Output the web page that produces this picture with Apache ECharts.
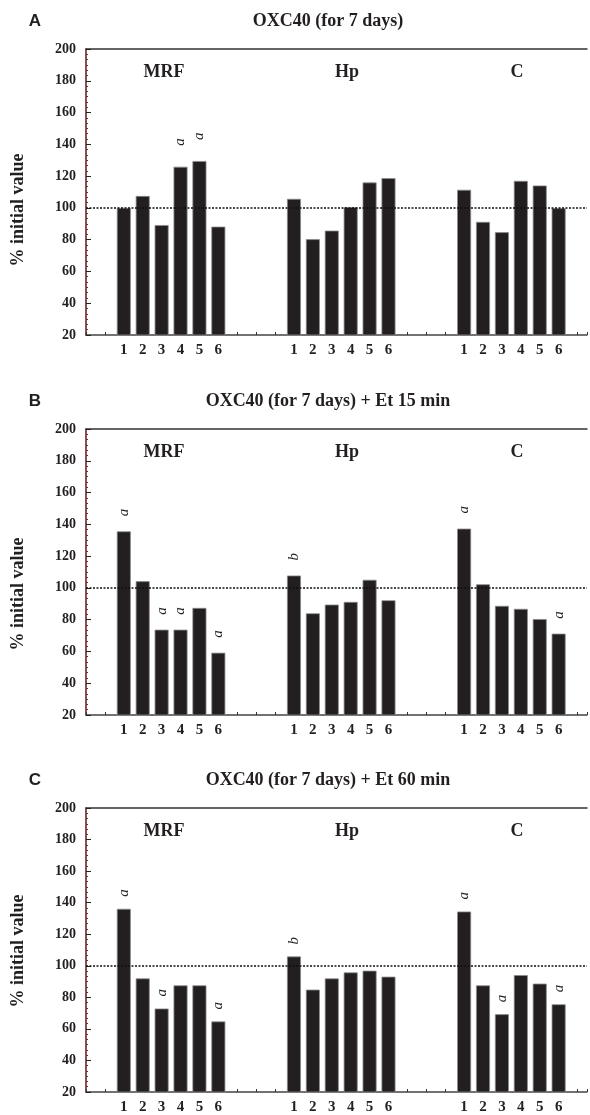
<!DOCTYPE html>
<html>
<head>
<meta charset="utf-8">
<style>
  html,body{margin:0;padding:0;background:#fff;}
  #container{width:590px;height:1115px;}
</style>
</head>
<body>
<div id="container"></div>
<script src="https://cdn.jsdelivr.net/npm/echarts@6/dist/echarts.min.js"></script>
<script>
// ---- data ----
var groups = ['MRF', 'Hp', 'C'];
var barLabels = ['1', '2', '3', '4', '5', '6'];
var yMin = 20, yMax = 200, yStep = 20;
var refValue = 100;
var panelLetters = ['A', 'B', 'C'];
var panelTitles = ['OXC40 (for 7 days)', 'OXC40 (for 7 days) + Et 15 min', 'OXC40 (for 7 days) + Et 60 min'];
var yName = '% initial value';

// panel A
var mrfA = [100, 107.5, 89.2, 125.9, 129.5, 88.2];
var hpA  = [105.7, 80.3, 85.7, 100.5, 116, 118.7];
var cA   = [111.4, 91.2, 84.7, 117, 114.1, 99.8];
var mrfA_sig = ['', '', '', 'a', 'a', ''];
var hpA_sig  = ['', '', '', '', '', ''];
var cA_sig   = ['', '', '', '', '', ''];

// panel B
var mrfB = [135.6, 104.2, 73.7, 73.7, 87.4, 59.2];
var hpB  = [107.8, 84, 89.5, 91.2, 105.1, 92.2];
var cB   = [137.3, 102.3, 88.7, 86.8, 80.4, 71.2];
var mrfB_sig = ['a', '', 'a', 'a', '', 'a'];
var hpB_sig  = ['b', '', '', '', '', ''];
var cB_sig   = ['a', '', '', '', '', 'a'];

// panel C
var mrfC = [136.1, 92, 72.9, 87.6, 87.6, 64.7];
var hpC  = [105.9, 84.9, 92, 95.8, 96.9, 93.1];
var cC   = [134.4, 87.6, 69.3, 94.1, 88.7, 75.6];
var mrfC_sig = ['a', '', 'a', '', '', 'a'];
var hpC_sig  = ['b', '', '', '', '', ''];
var cC_sig   = ['a', '', 'a', '', '', 'a'];

var panelValues = [[mrfA, hpA, cA], [mrfB, hpB, cB], [mrfC, hpC, cC]];
var panelSig = [[mrfA_sig, hpA_sig, cA_sig], [mrfB_sig, hpB_sig, cB_sig], [mrfC_sig, hpC_sig, cC_sig]];

// ---- layout ----
var groupStart = [2, 11, 20];   // slot of the first bar of each group
var xMax = 26.5;
var gridTop = [49, 429, 808];
var gridHeight = 286;
var gridLeft = 86;
var groupLabelX = [164, 347, 517];
var yNameY = [210, 594, 951];
var sigDistance = [21, 15, 12];
var ink = '#231f20';
var serif = '"Liberation Serif", "DejaVu Serif", serif';

var slotLabel = {};
groupStart.forEach(function (s) {
    barLabels.forEach(function (l, i) { slotLabel[s + i] = l; });
});

var myChart = echarts.init(document.getElementById('container'));
var grid = [], xAxis = [], yAxis = [], series = [], graphic = [];

for (var p = 0; p < 3; p++) {
    grid.push({left: gridLeft, right: 0, top: gridTop[p], height: gridHeight});

    xAxis.push({
        gridIndex: p, type: 'value', min: 0, max: xMax, interval: 1,
        axisLine: {lineStyle: {color: '#444', width: 1.5}},
        axisTick: {inside: true, length: 3, lineStyle: {color: '#333'}},
        axisLabel: {
            margin: 8, color: ink, fontFamily: serif, fontWeight: 'bold', fontSize: 15,
            formatter: function (v) { return slotLabel[v] || ''; }
        },
        splitLine: {show: false}
    });
    // top frame line
    xAxis.push({
        gridIndex: p, type: 'value', position: 'top', min: 0, max: xMax,
        axisLine: {show: true, lineStyle: {color: '#333', width: 1.5}},
        axisTick: {show: false}, axisLabel: {show: false}, splitLine: {show: false}
    });

    yAxis.push({
        gridIndex: p, type: 'value', min: yMin, max: yMax, interval: yStep,
        axisLine: {show: true, lineStyle: {color: '#5c1a1a', width: 1.5}},
        axisTick: {inside: true, length: 5, lineStyle: {color: '#222'}},
        minorTick: {show: true, splitNumber: 6, length: 2, lineStyle: {color: '#7a2a2a'}},
        axisLabel: {margin: 10, color: ink, fontFamily: serif, fontWeight: 'bold', fontSize: 14},
        splitLine: {show: false}
    });

    var data = [];
    for (var g = 0; g < 3; g++) {
        for (var i = 0; i < 6; i++) {
            var item = {value: [groupStart[g] + i, panelValues[p][g][i]]};
            var s = panelSig[p][g][i];
            if (s) item.label = {show: true, formatter: s};
            data.push(item);
        }
    }

    series.push({
        type: 'bar',
        xAxisIndex: p * 2,
        yAxisIndex: p,
        barWidth: 14,
        data: data,
        itemStyle: {color: ink, borderColor: '#8c8c8c', borderWidth: 0.8},
        label: {
            show: false, position: 'top', distance: sigDistance[p], rotate: 90,
            align: 'left', verticalAlign: 'middle',
            color: ink, fontFamily: serif, fontStyle: 'italic', fontSize: 15
        },
        markLine: {
            silent: true, symbol: 'none',
            label: {show: false},
            lineStyle: {type: [2, 1.5], color: '#111', width: 1.6},
            data: [{yAxis: refValue}]
        },
        animation: false
    });

    var ty = gridTop[p] - 28;
    graphic.push({
        type: 'text', x: 35, y: ty,
        style: {text: panelLetters[p], fill: ink, font: 'bold 17px "Liberation Sans", sans-serif',
                align: 'center', verticalAlign: 'middle'}
    });
    graphic.push({
        type: 'text', x: 328, y: ty,
        style: {text: panelTitles[p], fill: ink, font: 'bold 18px ' + serif,
                align: 'center', verticalAlign: 'middle'}
    });
    for (var g2 = 0; g2 < 3; g2++) {
        graphic.push({
            type: 'text', x: groupLabelX[g2], y: gridTop[p] + 23,
            style: {text: groups[g2], fill: ink, font: 'bold 18px ' + serif,
                    align: 'center', verticalAlign: 'middle'}
        });
    }
    graphic.push({
        type: 'text', x: 18, y: yNameY[p], rotation: Math.PI / 2,
        style: {text: yName, fill: ink, font: 'bold 18px ' + serif,
                align: 'center', verticalAlign: 'middle'}
    });
}

var option = {
    backgroundColor: '#fff',
    animation: false,
    grid: grid,
    xAxis: xAxis,
    yAxis: yAxis,
    series: series,
    graphic: graphic
};
myChart.setOption(option, true);
</script>
</body>
</html>
